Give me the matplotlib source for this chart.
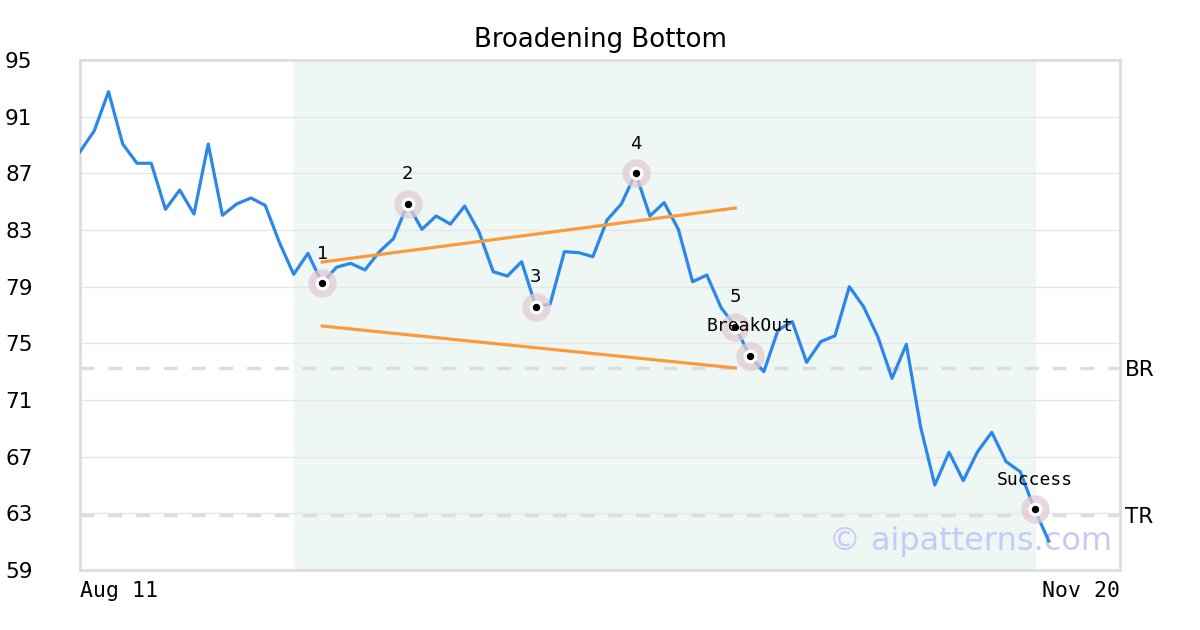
import numpy as np
import matplotlib.pyplot as plt

# closing prices, one per trading day from Aug 11 to about Nov 17
prices = [88.53, 90.0, 92.76, 89.07, 87.71, 87.71, 84.46, 85.82, 84.13, 89.07,
          84.04, 84.84, 85.26, 84.74, 82.11, 79.87, 81.35, 79.24, 80.37, 80.65,
          80.18, 81.45, 82.39, 84.84, 83.05, 83.99, 83.42, 84.69, 82.88, 80.06,
          79.75, 80.76, 77.59, 77.78, 81.47, 81.40, 81.12, 83.71, 84.84, 87.0,
          83.99, 84.93, 83.05, 79.35, 79.82, 77.52, 76.18, 74.13, 73.0, 75.94,
          76.53, 73.66, 75.12, 75.54, 79.0, 77.59, 75.47, 72.53, 74.93, 69.12,
          65.0, 67.31, 65.31, 67.35, 68.72, 66.65, 65.94, 63.28, 61.05]
n_days = 74
date_labels = ['Aug 11', 'Nov 20']

pattern_span = (15, 67)
pivot_idx = [17, 23, 32, 39, 46]
pivot_names = ['1', '2', '3', '4', '5']
breakout_idx = 47
success_idx = 67

upper_x = [17, 46]
upper_y = [80.74, 84.55]
lower_x = [17, 46]
lower_y = [76.22, 73.26]

br_level = 73.26
tr_level = 62.88

y_ticks = [59, 63, 67, 71, 75, 79, 83, 87, 91, 95]

fig = plt.figure(figsize=(12, 6.3), dpi=100)
ax = fig.add_axes([80/1200, 60/630, 1040/1200, 510/630])

x = np.arange(len(prices))
ax.set_xlim(0, n_days - 1)
ax.set_ylim(59, 95)

ax.axvspan(pattern_span[0], pattern_span[1], color='#eef7f3', zorder=0)
for t in y_ticks[1:-1]:
    ax.axhline(t, color='#e6e6e6', lw=1, zorder=1)

ax.axhline(br_level, color='#dddddd', lw=2.5, ls=(0, (4, 4)), zorder=1)
ax.axhline(tr_level, color='#dddddd', lw=2.5, ls=(0, (4, 4)), zorder=1)

ax.text(0.992, 0.055, '\u00a9 aipatterns.com', transform=ax.transAxes,
        ha='right', va='center', fontsize=23, color='#c9c9f7', zorder=2)

ax.plot(x, prices, color='#2b87e8', lw=2.3, zorder=3)
ax.plot(upper_x, upper_y, color='#fb9a3c', lw=2.3, zorder=3)
ax.plot(lower_x, lower_y, color='#fb9a3c', lw=2.3, zorder=3)

def mark(i, label, mono=False):
    v = prices[i]
    ax.scatter([i], [v], s=420, color='#e3cbd3', alpha=0.75, lw=0, zorder=4)
    ax.scatter([i], [v], s=100, color='white', lw=0, zorder=5)
    ax.scatter([i], [v], s=28, color='black', lw=0, zorder=6)
    ax.text(i, v + 2.1, label, ha='center', va='center', fontsize=13,
            family='DejaVu Sans Mono' if mono else 'DejaVu Sans', zorder=7)

for i, name in zip(pivot_idx, pivot_names):
    mark(i, name)
mark(breakout_idx, 'BreakOut', mono=True)
mark(success_idx, 'Success', mono=True)

ax.set_yticks([])
ax.set_xticks([])
for t in y_ticks:
    ax.text(-0.072, t, str(t), transform=ax.get_yaxis_transform(),
            ha='left', va='center_baseline', fontsize=15.5)
ax.text(0, -0.022, date_labels[0], transform=ax.transAxes, ha='left', va='top',
        fontsize=15.5, family='DejaVu Sans Mono')
ax.text(1, -0.022, date_labels[1], transform=ax.transAxes, ha='right', va='top',
        fontsize=15.5, family='DejaVu Sans Mono')

ax.text(1.005, br_level, 'BR', transform=ax.get_yaxis_transform(),
        ha='left', va='center_baseline', fontsize=15.5)
ax.text(1.005, tr_level, 'TR', transform=ax.get_yaxis_transform(),
        ha='left', va='center_baseline', fontsize=15.5)

for s in ax.spines.values():
    s.set_color('#dddddd')
    s.set_linewidth(2)

fig.text(0.5, 1 - 40/630, 'Broadening Bottom', ha='center', va='center', fontsize=18.7)

fig.savefig('out.png', dpi=100)
